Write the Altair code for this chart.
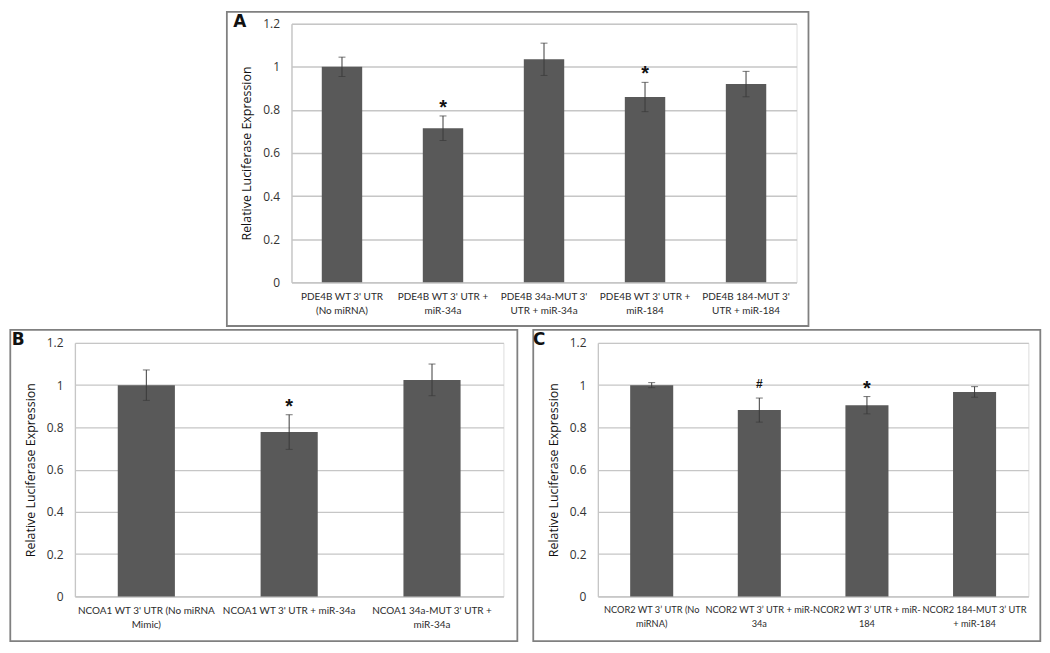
import altair as alt
import pandas as pd

# ---------------- data ----------------
y_ticks = [0, 0.2, 0.4, 0.6, 0.8, 1.0, 1.2]

a_cats = ["PDE4B WT 3' UTR|(No miRNA)", "PDE4B WT 3' UTR +|miR-34a",
          "PDE4B 34a-MUT 3'|UTR + miR-34a", "PDE4B WT 3' UTR + |miR-184",
          "PDE4B 184-MUT 3'|UTR + miR-184"]
a_vals = [1.0, 0.715, 1.035, 0.86, 0.92]
a_errs = [0.045, 0.057, 0.075, 0.068, 0.059]
a_marks = ["", "*", "", "*", ""]

b_cats = ["NCOA1 WT 3' UTR (No miRNA|Mimic)", "NCOA1 WT 3' UTR + miR-34a",
          "NCOA1 34a-MUT 3' UTR +|miR-34a"]
b_vals = [1.0, 0.778, 1.025]
b_errs = [0.072, 0.082, 0.075]
b_marks = ["", "*", ""]

c_cats = ["NCOR2 WT 3’ UTR (No|miRNA)", "NCOR2 WT 3’ UTR + miR-|34a",
          "NCOR2 WT 3’ UTR + miR-|184", "NCOR2 184-MUT 3’ UTR|+ miR-184"]
c_vals = [1.0, 0.882, 0.905, 0.968]
c_errs = [0.012, 0.057, 0.041, 0.025]
c_marks = ["", "#", "*", ""]

BAR = "#595959"
GRID = "#c6c6c6"
FRAME = "#808080"
ERR = "#3a3a3a"
YTITLE = "Relative Luciferase Expression"


def panel(letter, cats, vals, errs, marks, w, h, box, letter_xy, label_size, extra_right=0):
    df = pd.DataFrame({
        "cat": cats,
        "val": vals,
        "lo": [v - e for v, e in zip(vals, errs)],
        "hi": [v + e for v, e in zip(vals, errs)],
        "mark": marks,
    })
    xscale = alt.Scale(paddingInner=0.6, paddingOuter=0.3)
    yscale = alt.Scale(domain=[0, 1.2], nice=False, zero=True)
    xaxis = alt.Axis(title=None, labelAngle=0, labelExpr="split(datum.label, '|')",
                     ticks=False, domain=True, domainColor=GRID, domainWidth=1.3,
                     labelFont="Lato", labelFontSize=label_size, labelColor="#2b2b2b",
                     labelPadding=9, labelLineHeight=14, labelOverlap=False,
                     labelBound=False, labelFlush=False, labelLimit=400, grid=False)
    yaxis = alt.Axis(title=YTITLE, values=y_ticks, format="~g", ticks=False,
                     domain=True, domainColor=GRID, domainWidth=1.3,
                     grid=True, gridColor=GRID, gridWidth=1.3,
                     labelFont="Open Sans", labelFontSize=12, labelColor="#333333",
                     labelPadding=12, titleFont="Open Sans", titleFontSize=12.5,
                     titleFontWeight="normal", titleColor="#111111", titlePadding=9)
    X = alt.X("cat:N", sort=cats, scale=xscale, axis=xaxis)
    base = alt.Chart(df)
    bars = base.mark_bar(color=BAR).encode(
        x=X, y=alt.Y("val:Q", scale=yscale, axis=yaxis, title=YTITLE))
    Xs = alt.X("cat:N", sort=cats)
    rule = base.mark_rule(color=ERR, strokeWidth=1).encode(
        x=Xs, y=alt.Y("lo:Q", title=YTITLE), y2="hi:Q")
    cap_lo = base.mark_tick(color=ERR, size=7, thickness=1).encode(
        x=Xs, y=alt.Y("lo:Q", title=YTITLE))
    cap_hi = base.mark_tick(color=ERR, size=7, thickness=1).encode(
        x=Xs, y=alt.Y("hi:Q", title=YTITLE))
    star = base.transform_filter("datum.mark == '*'").mark_text(
        font="Liberation Sans", fontSize=20, fontWeight="bold", color="#111111",
        baseline="alphabetic", dy=-2).encode(
        x=Xs, y=alt.Y("hi:Q", title=YTITLE), text="mark:N")
    hashm = base.transform_filter("datum.mark == '#'").mark_text(
        font="Liberation Sans", fontSize=12, fontWeight="bold", color="#111111",
        baseline="alphabetic", dy=-10).encode(
        x=Xs, y=alt.Y("hi:Q", title=YTITLE), text="mark:N")
    one = pd.DataFrame({"k": [0]})
    frame = alt.Chart(one).mark_rect(fill="transparent", stroke=FRAME, strokeWidth=1.8).encode(
        x=alt.value(-box[0]), x2=alt.value(w + box[1]),
        y=alt.value(-box[2]), y2=alt.value(h + box[3]))
    lt = alt.Chart(one).mark_text(font="DejaVu Sans", fontSize=17, fontWeight="bold",
                                  color="#111111", align="center", baseline="middle").encode(
        x=alt.value(letter_xy[0]), y=alt.value(letter_xy[1]), text=alt.value(letter))
    layers = [frame, bars, rule, cap_lo, cap_hi, star, hashm, lt]
    if extra_right:
        # invisible (white) hairline that only widens the panel's layout bounds
        pad = alt.Chart(one).mark_rule(color="white", strokeWidth=0.5).encode(
            x=alt.value(w + box[1] + extra_right), y=alt.value(0), y2=alt.value(1))
        layers.append(pad)
    return alt.layer(*layers).properties(width=w, height=h)


A = panel("A", a_cats, a_vals, a_errs, a_marks, 508, 260, (65, 12, 12, 44), (-52, -2), 10,
          extra_right=16)
B = panel("B", b_cats, b_vals, b_errs, b_marks, 431, 255, (65, 14, 13, 45), (-57, -3), 10)
C = panel("C", c_cats, c_vals, c_errs, c_marks, 433, 255, (65, 12, 13, 45), (-59, -3), 9.3)

bottom = alt.hconcat(B, C, spacing=12)
chart = alt.vconcat(A, bottom, spacing=0, center=True).properties(padding=0).configure_view(
    stroke=None).configure(background="white")

chart.save("out.html", embed_options={"renderer": "svg", "actions": False})
